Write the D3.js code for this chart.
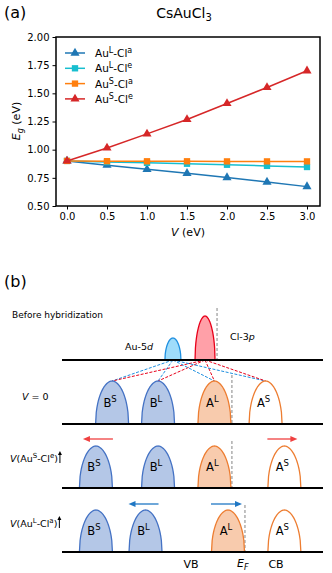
<!DOCTYPE html>
<html>
<head>
<meta charset="utf-8">
<script src="https://cdn.jsdelivr.net/npm/d3@7"></script>
<style>
  body { margin: 0; background: #fff; }
  svg { font-family: "DejaVu Sans", sans-serif; }
</style>
</head>
<body>
<div id="chart"></div>
<script>
// ---- panel (a) data ----
const vValues = [0, 0.5, 1.0, 1.5, 2.0, 2.5, 3.0];
const yTicks = [0.50, 0.75, 1.00, 1.25, 1.50, 1.75, 2.00];
const seriesNames = [["L", "a"], ["L", "e"], ["S", "a"], ["S", "e"]];
const auLClA = [0.90, 0.862, 0.826, 0.790, 0.752, 0.713, 0.672];
const auLClE = [0.90, 0.890, 0.883, 0.875, 0.866, 0.856, 0.846];
const auSClA = [0.90, 0.898, 0.897, 0.897, 0.896, 0.896, 0.896];
const auSClE = [0.90, 1.015, 1.140, 1.268, 1.410, 1.552, 1.700];

// ---- panel (b) data (energies, arbitrary units) ----
const peakLabels = [["B", "S"], ["B", "L"], ["A", "L"], ["A", "S"]];
const rowV0 = [1.92, 3.68, 5.84, 7.80];
const rowAuSClE = [1.30, 3.68, 5.84, 8.52];
const rowAuLClA = [1.30, 3.20, 6.36, 8.52];
const fermiLevels = [5.94, 6.51, 6.51, 7.01];
const atomicLevels = [4.25, 5.48];   // Au-5d, Cl-3p

const W = 332, H = 573;
const svg = d3.select("#chart").append("svg").attr("width", W).attr("height", H);

// ================= panel (a) =================
const frame = { left: 56, right: 320, top: 37, bottom: 206 };
const x = d3.scaleLinear().domain([0, 3]).range([67, 307]);
const y = d3.scaleLinear().domain([0.5, 2.0]).range([frame.bottom, frame.top]);

svg.append("text").attr("x", 4).attr("y", 18).attr("font-size", 16).text("(a)");
const title = svg.append("text").attr("x", 184).attr("y", 18).attr("text-anchor", "middle").attr("font-size", 14);
title.append("tspan").text("CsAuCl");
title.append("tspan").attr("font-size", 10).attr("dy", 3).text("3");

const xAxis = svg.append("g").attr("transform", `translate(0,${frame.bottom})`)
  .call(d3.axisBottom(x).tickValues(vValues).tickFormat(d3.format(".1f")).tickSize(3.5).tickPadding(3));
const yAxis = svg.append("g").attr("transform", `translate(${frame.left},0)`)
  .call(d3.axisLeft(y).tickValues(yTicks).tickFormat(d3.format(".2f")).tickSize(3.5).tickPadding(3));
[xAxis, yAxis].forEach(a => {
  a.select(".domain").remove();
  a.selectAll("text").attr("font-size", 10).attr("fill", "#000").attr("font-family", "DejaVu Sans");
  a.selectAll("line").attr("stroke", "#000");
});

svg.append("rect")
  .attr("x", frame.left).attr("y", frame.top)
  .attr("width", frame.right - frame.left).attr("height", frame.bottom - frame.top)
  .attr("fill", "none").attr("stroke", "#000").attr("stroke-width", 1.5);

const xl = svg.append("text").attr("x", 188).attr("y", 236).attr("text-anchor", "middle").attr("font-size", 11);
xl.append("tspan").attr("font-style", "italic").text("V");
xl.append("tspan").text(" (eV)");
const yl = svg.append("text").attr("transform", "translate(20,121) rotate(-90)").attr("text-anchor", "middle").attr("font-size", 11);
yl.append("tspan").attr("font-style", "italic").text("E");
yl.append("tspan").attr("font-style", "italic").attr("font-size", 8).attr("dy", 3).text("g");
yl.append("tspan").attr("dy", -3).text(" (eV)");

const series = [
  { vals: auLClA, color: "#1f77b4", marker: d3.symbolTriangle },
  { vals: auLClE, color: "#17becf", marker: d3.symbolSquare },
  { vals: auSClA, color: "#ff7f0e", marker: d3.symbolSquare },
  { vals: auSClE, color: "#d62728", marker: d3.symbolTriangle }
];
const line = d3.line().x((d, i) => x(vValues[i])).y(d => y(d));

series.forEach(s => {
  svg.append("path").attr("d", line(s.vals)).attr("fill", "none").attr("stroke", s.color).attr("stroke-width", 1.5);
  svg.append("g").selectAll("path").data(s.vals).join("path")
    .attr("transform", (d, i) => `translate(${x(vValues[i])},${y(d)})`)
    .attr("d", d3.symbol().type(s.marker).size(s.marker === d3.symbolTriangle ? 36 : 40))
    .attr("fill", s.color);
});

// legend
series.forEach((s, i) => {
  const ly = 53 + i * 15.3;
  svg.append("line").attr("x1", 65).attr("x2", 85).attr("y1", ly).attr("y2", ly).attr("stroke", s.color).attr("stroke-width", 1.5);
  svg.append("path").attr("transform", `translate(75,${ly})`)
    .attr("d", d3.symbol().type(s.marker).size(s.marker === d3.symbolTriangle ? 36 : 40)).attr("fill", s.color);
  const t = svg.append("text").attr("x", 95).attr("y", ly + 4).attr("font-size", 10.5);
  t.append("tspan").text("Au");
  t.append("tspan").attr("font-size", 8).attr("dy", -4).text(seriesNames[i][0]);
  t.append("tspan").attr("dy", 4).text("-Cl");
  t.append("tspan").attr("font-size", 8).attr("dy", -4).text(seriesNames[i][1]);
});

// ================= panel (b) =================
const e = d3.scaleLinear().domain([0, 10]).range([62, 323]);
const blue = { fill: "#b4c7e7", stroke: "#4472c4" };
const orange = { fill: "#f8cbad", stroke: "#ed7d31" };

svg.append("text").attr("x", 4).attr("y", 287).attr("font-size", 16).text("(b)");
svg.append("text").attr("x", 12).attr("y", 318).attr("font-size", 9).text("Before hybridization");

function arch(cx, w, h, base) {
  const pts = d3.range(-1, 1.0001, 0.04).map(t => [cx + t * w, base - h * Math.pow(1 - Math.pow(Math.abs(t), 1.9), 0.5)]);
  return d3.line()(pts);
}

function baseline(yb) {
  svg.append("line").attr("x1", 62).attr("x2", 323).attr("y1", yb).attr("y2", yb).attr("stroke", "#000").attr("stroke-width", 2);
}
function fermi(xe, y1, y2) {
  svg.append("line").attr("x1", e(xe)).attr("x2", e(xe)).attr("y1", y1).attr("y2", y2)
    .attr("stroke", "#999").attr("stroke-width", 1.2).attr("stroke-dasharray", "3,2");
}
function peakRow(centers, base, h) {
  centers.forEach((c, i) => {
    const col = i < 2 ? blue : orange;
    svg.append("path").attr("d", arch(e(c), 16.5, h, base))
      .attr("fill", i === 3 ? "#fff" : col.fill).attr("stroke", col.stroke).attr("stroke-width", 1.3);
    const t = svg.append("text").attr("x", e(c) - 2).attr("y", base - 17).attr("text-anchor", "middle").attr("font-size", 11.5);
    t.append("tspan").text(peakLabels[i][0]);
    t.append("tspan").attr("font-size", 8.5).attr("dy", -5).text(peakLabels[i][1]);
  });
}
function arrowH(x1, x2, yy, color) {
  const dir = Math.sign(x2 - x1);
  svg.append("line").attr("x1", x1).attr("x2", x2 - dir * 5).attr("y1", yy).attr("y2", yy).attr("stroke", color).attr("stroke-width", 1.3);
  svg.append("path").attr("d", `M${x2},${yy} L${x2 - dir * 7},${yy - 3} L${x2 - dir * 7},${yy + 3} Z`).attr("fill", color);
}
function rowLabel(yy, a, b) {
  const t = svg.append("text").attr("x", 10).attr("y", yy).attr("font-size", 9.5);
  t.append("tspan").attr("font-style", "italic").text("V");
  t.append("tspan").text("(Au");
  t.append("tspan").attr("font-size", 7).attr("dy", -4).text(a);
  t.append("tspan").attr("dy", 4).text("-Cl");
  t.append("tspan").attr("font-size", 7).attr("dy", -4).text(b);
  t.append("tspan").attr("dy", 4).text(")");
  const bb = t.node().getBBox();
  const ax = bb.x + bb.width + 2;
  svg.append("line").attr("x1", ax).attr("x2", ax).attr("y1", yy + 1).attr("y2", yy - 8).attr("stroke", "#000").attr("stroke-width", 1);
  svg.append("path").attr("d", `M${ax},${yy - 11} L${ax - 2},${yy - 7} L${ax + 2},${yy - 7} Z`).attr("fill", "#000");
}

// before hybridization
fermi(fermiLevels[0], 308, 360);
svg.append("path").attr("d", arch(e(atomicLevels[0]), 8, 22, 360)).attr("fill", "#9fdcfa").attr("stroke", "#1e8fe0").attr("stroke-width", 1.3);
svg.append("path").attr("d", arch(e(atomicLevels[1]), 10, 44, 360)).attr("fill", "#ffa0a8").attr("stroke", "#e8001a").attr("stroke-width", 1.3);
const t5d = svg.append("text").attr("x", 125).attr("y", 350).attr("font-size", 9.5);
t5d.append("tspan").text("Au-5");
t5d.append("tspan").attr("font-style", "italic").text("d");
const t3p = svg.append("text").attr("x", 230).attr("y", 340).attr("font-size", 9.5);
t3p.append("tspan").text("Cl-3");
t3p.append("tspan").attr("font-style", "italic").text("p");

// hybridization lines
rowV0.forEach(c => {
  svg.append("line").attr("x1", e(atomicLevels[0])).attr("y1", 360).attr("x2", e(c)).attr("y2", 381)
    .attr("stroke", "#1e8fe0").attr("stroke-width", 1).attr("stroke-dasharray", "3,1.5");
  svg.append("line").attr("x1", e(atomicLevels[1])).attr("y1", 360).attr("x2", e(c)).attr("y2", 381)
    .attr("stroke", "#e8001a").attr("stroke-width", 1).attr("stroke-dasharray", "3,1.5");
});
baseline(360);

// V = 0
fermi(fermiLevels[1], 375, 424);
peakRow(rowV0, 424, 43);
baseline(424);
const v0 = svg.append("text").attr("x", 22).attr("y", 400).attr("font-size", 9.5);
v0.append("tspan").attr("font-style", "italic").text("V");
v0.append("tspan").text(" = 0");

// V(AuS-Cle)
fermi(fermiLevels[2], 441, 488);
peakRow(rowAuSClE, 488, 42);
baseline(488);
arrowH(e(rowAuSClE[0]) + 17, e(rowAuSClE[0]) - 13, 439, "#f04040");
arrowH(e(rowAuSClE[3]) - 17, e(rowAuSClE[3]) + 13, 439, "#f04040");
rowLabel(462, "S", "e");

// V(AuL-Cla)
fermi(fermiLevels[3], 505, 552);
peakRow(rowAuLClA, 552, 42);
baseline(552);
arrowH(e(rowAuLClA[1]) + 13, e(rowAuLClA[1]) - 17, 504, "#1f77c4");
arrowH(e(rowAuLClA[2]) - 17, e(rowAuLClA[2]) + 14, 504, "#1f77c4");
rowLabel(527, "L", "a");

// bottom labels
svg.append("text").attr("x", 191).attr("y", 568).attr("text-anchor", "middle").attr("font-size", 11).text("VB");
const ef = svg.append("text").attr("x", 237).attr("y", 567).attr("font-size", 11);
ef.append("tspan").attr("font-style", "italic").text("E");
ef.append("tspan").attr("font-style", "italic").attr("font-size", 8).attr("dy", 2.5).text("F");
svg.append("text").attr("x", 276).attr("y", 568).attr("text-anchor", "middle").attr("font-size", 11).text("CB");
</script>
</body>
</html>
